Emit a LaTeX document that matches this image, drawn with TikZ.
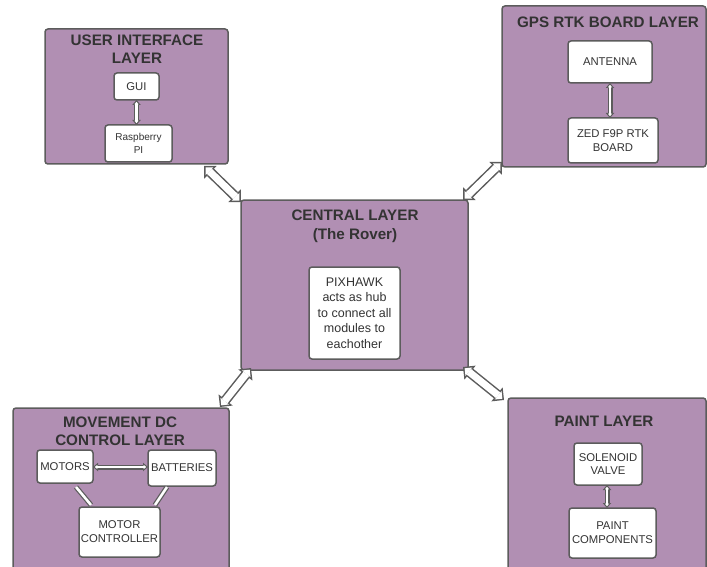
\documentclass[tikz,border=0pt]{standalone}
\usepackage{fontspec}
\setmainfont{Liberation Sans}
\usetikzlibrary{arrows.meta,calc}
\definecolor{layerfill}{RGB}{177,143,179}
\definecolor{edgecol}{RGB}{92,92,92}
\definecolor{txtcol}{RGB}{51,51,51}
\begin{document}
\begin{tikzpicture}[x=1pt,y=-1pt,
  layerbox/.style 2 args={draw=edgecol, line width=1.5pt, fill=layerfill, rounded corners=3pt,
    minimum width=#1pt, minimum height=#2pt, inner sep=0pt, outer sep=0pt},
  itembox/.style 2 args={draw=edgecol, line width=1.5pt, fill=white, rounded corners=3pt,
    minimum width=#1pt, minimum height=#2pt, inner sep=0pt, outer sep=0pt, align=center,
    text=txtcol, font=\fontsize{11.3}{13.8}\selectfont},
  titletext/.style={align=center, text=txtcol, inner sep=0pt,
    font=\fontsize{15.2}{18.5}\selectfont\bfseries},
  bigarrow/.style={line width=7pt, white,
    {Triangle[length=5.4pt,width=10.8pt,line width=0pt]}-{Triangle[length=5.4pt,width=10.8pt,line width=0pt]},
    shorten <=2.1pt, shorten >=2.1pt,
    preaction={draw=edgecol, line width=10pt,
      {Triangle[length=9pt,width=18pt,line width=0pt]}-{Triangle[length=9pt,width=18pt,line width=0pt]},
      shorten <=0pt, shorten >=0pt}},
  smallarrow/.style={line width=2.6pt, white,
    {Triangle[length=2.5pt,width=4pt,line width=0pt]}-{Triangle[length=2.5pt,width=4pt,line width=0pt]},
    shorten <=1.8pt, shorten >=1.8pt,
    preaction={draw=edgecol, line width=5pt,
      {Triangle[length=5pt,width=8.5pt,line width=0pt]}-{Triangle[length=5pt,width=8.5pt,line width=0pt]},
      shorten <=0pt, shorten >=0pt}},
  hollowbar/.style={line width=2.6pt, white, preaction={draw=edgecol, line width=5pt}}
]
\useasboundingbox (0,0) rectangle (707,567);
\begin{scope}
\clip (0,0) rectangle (707,567);
% layers
\node[layerbox={183}{135}] (ui) at (136.5,96.5) {};
\node[layerbox={204}{161}] (gps) at (604,86.5) {};
\node[layerbox={227}{170}] (central) at (354.5,285) {};
\node[layerbox={216}{172}] (move) at (121,494) {};
\node[layerbox={198}{180}] (paint) at (607,488) {};
% titles
\node[titletext] (uiT) at (137,49) {USER INTERFACE\\LAYER};
\node[titletext] (gpsT) at (608,22) {GPS RTK BOARD LAYER};
\node[titletext] (centralT) at (355,226.5) {CENTRAL LAYER\\(The Rover)};
\node[titletext] (moveT) at (120,431.5) {MOVEMENT DC\\CONTROL LAYER};
\node[titletext] (paintT) at (604,421) {PAINT LAYER};
% items
\node[itembox={45}{27}] (gui) at (136.5,86.5) {GUI};
\node[itembox={67}{37}, font=\fontsize{10}{13}\selectfont] (rasp) at (138.5,143.5) {Raspberry\\PI};
\node[itembox={84}{42}] (ant) at (610,62) {ANTENNA};
\node[itembox={90}{45}] (zed) at (613,140.5) {ZED F9P RTK\\BOARD};
\node[itembox={91}{92}, font=\fontsize{12.5}{15.5}\selectfont] (pix) at (354.5,313) {PIXHAWK\\acts as hub\\to connect all\\modules to\\eachother};
\node[itembox={56}{33}] (motors) at (65,466.5) {MOTORS};
\node[itembox={68}{36}] (batt) at (182,468) {BATTERIES};
\node[itembox={81}{50}] (mc) at (119.5,532) {MOTOR\\CONTROLLER};
\node[itembox={68}{42}] (sol) at (608,464) {SOLENOID\\VALVE};
\node[itembox={87}{50}] (pc) at (612.5,533) {PAINT\\COMPONENTS};
% inner connectors
\draw[smallarrow] (gui.south) -- (gui.south |- rasp.north);
\draw[smallarrow] (ant.south) -- (ant.south |- zed.north);
\draw[smallarrow] (motors.east |- 0,467) -- (batt.west |- 0,467);
\draw[smallarrow] ($(sol.south)+(-1,0)$) -- ($(sol.south |- pc.north)+(-1,0)$);
\draw[hollowbar] ($(motors.south east)+(-17,4)$) -- ($(mc.north west)+(12,-2)$);
\draw[hollowbar] ($(batt.south)+(-15,1)$) -- ($(mc.north east)+(-5,-2)$);
% layer connectors
\draw[bigarrow] ($(ui.south east)+(-24,2)$) -- ($(central.north west)+(0,2)$);
\draw[bigarrow] ($(central.north east)+(-5,0)$) -- ($(gps.south west)+(0,-5)$);
\draw[bigarrow] ($(central.south west)+(10,-2)$) -- ($(move.north east)+(-9,-1)$);
\draw[bigarrow] ($(central.south east)+(-5,-3)$) -- ($(paint.north west)+(-4,2)$);
\end{scope}
\end{tikzpicture}
\end{document}
